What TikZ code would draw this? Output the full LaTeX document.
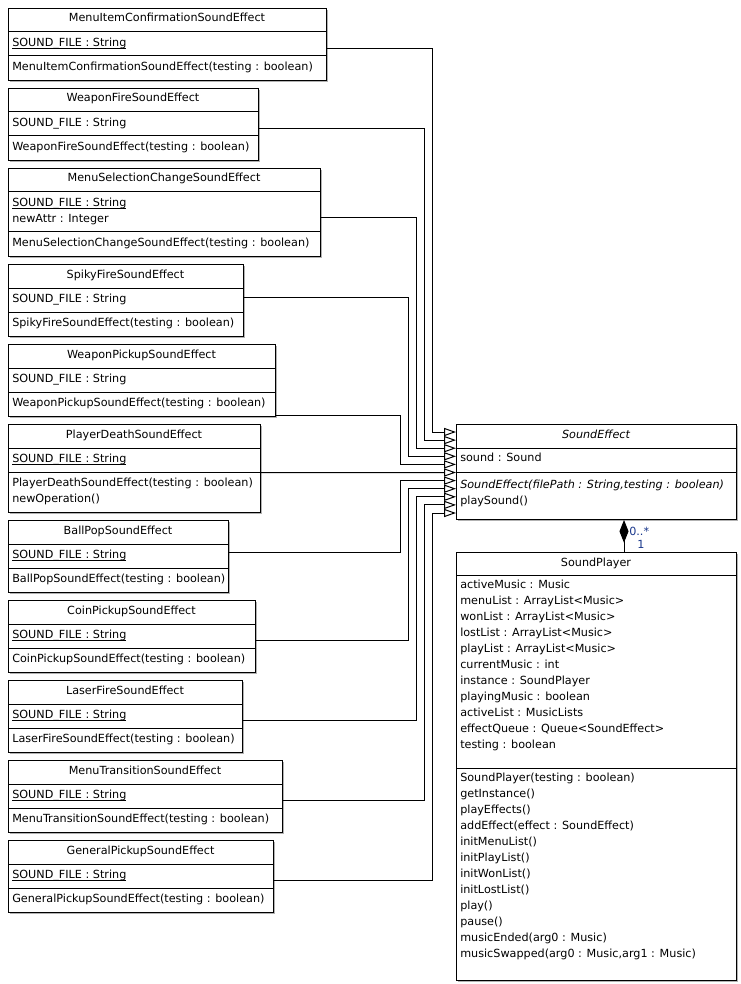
\documentclass[tikz,border=0pt]{standalone}
\usepackage{fontspec}
\setmainfont{DejaVu Sans}
\usetikzlibrary{arrows.meta,calc,shadows}

\definecolor{multblue}{RGB}{25,55,140}
\newcommand{\umlfont}{\fontsize{8.4pt}{12pt}\selectfont}
% static members: a rule level with the underscore glyph
\newsavebox{\ulbox}
\newcommand{\staticmem}[1]{\sbox{\ulbox}{#1}\rlap{\rule[-1.55pt]{\wd\ulbox}{0.5pt}}\usebox{\ulbox}}

\tikzset{
  x=0.75pt, y=-0.75pt,
  umlbox/.style={draw=black, line width=0.75pt, fill=white, inner sep=0pt,
    anchor=north west,
    drop shadow={shadow xshift=1.1pt, shadow yshift=-1.1pt, fill=black, opacity=0.3}},
  member/.style={anchor=base west, inner sep=0pt, font=\umlfont},
  cname/.style={anchor=base, inner sep=0pt, font=\umlfont},
  divider/.style={line width=0.75pt},
  gen/.style={line width=0.75pt,
    -{Triangle[open, length=9pt, width=6.1pt, line width=0.75pt]}},
  comp/.style={line width=0.75pt, {Diamond[length=17pt, width=6.8pt]}-},
  mult/.style={inner sep=0pt, font=\umlfont, text=multblue},
}

% class frame with its name row
\newcommand{\umlcls}[6]{%
  \node[umlbox, minimum width={(#4-#2)*0.75pt}, minimum height={(#5-#3)*0.75pt}] (#1) at (#2,#3) {};
  \node[cname] (#1-name) at ({(#2+#4)/2},#3+14) {#6};
}
% horizontal compartment line
\newcommand{\umlsep}[3]{\draw[divider] (#1,#3) -- (#2,#3);}
% one attribute or operation line
\newcommand{\umlmem}[4]{\node[member] (#1) at (#2,#3) {#4};}

% the usual effect subclass: one attribute, one constructor
\newcommand{\effect}[6]{% name, y-top, x-right, title, attribute, operation
  \umlcls{#1}{8}{#2}{#3}{#2+72}{#4}
  \umlsep{8}{#3}{#2+24}
  \umlsep{8}{#3}{#2+48}
  \umlmem{#1-a1}{12}{#2+38.5}{#5}
  \umlmem{#1-o1}{12}{#2+62.5}{#6}
}

\begin{document}
\begin{tikzpicture}
\fill[white] (0,0) rectangle (740,984);
\useasboundingbox (0,0) rectangle (740,984);

% ---- subclasses -----------------------------------------------------
\effect{mic}{8}{326}{MenuItemConfirmationSoundEffect}{\staticmem{SOUND\_FILE : String}}{MenuItemConfirmationSoundEffect(testing : boolean)}
\effect{wfire}{88}{258}{WeaponFireSoundEffect}{SOUND\_FILE : String}{WeaponFireSoundEffect(testing : boolean)}

\umlcls{msel}{8}{168}{320}{256}{MenuSelectionChangeSoundEffect}
\umlsep{8}{320}{192}
\umlsep{8}{320}{232}
\umlmem{msel-a1}{12}{206.5}{\staticmem{SOUND\_FILE : String}}
\umlmem{msel-a2}{12}{222.5}{newAttr : Integer}
\umlmem{msel-o1}{12}{246.5}{MenuSelectionChangeSoundEffect(testing : boolean)}

\effect{spiky}{264}{243}{SpikyFireSoundEffect}{SOUND\_FILE : String}{SpikyFireSoundEffect(testing : boolean)}
\effect{wpick}{344}{275}{WeaponPickupSoundEffect}{SOUND\_FILE : String}{WeaponPickupSoundEffect(testing : boolean)}

\umlcls{pdeath}{8}{424}{260}{512}{PlayerDeathSoundEffect}
\umlsep{8}{260}{448}
\umlsep{8}{260}{472}
\umlmem{pdeath-a1}{12}{462.5}{\staticmem{SOUND\_FILE : String}}
\umlmem{pdeath-o1}{12}{486.5}{PlayerDeathSoundEffect(testing : boolean)}
\umlmem{pdeath-o2}{12}{502.5}{newOperation()}

\effect{bpop}{520}{228}{BallPopSoundEffect}{\staticmem{SOUND\_FILE : String}}{BallPopSoundEffect(testing : boolean)}
\effect{coin}{600}{255}{CoinPickupSoundEffect}{\staticmem{SOUND\_FILE : String}}{CoinPickupSoundEffect(testing : boolean)}
\effect{laser}{680}{242}{LaserFireSoundEffect}{\staticmem{SOUND\_FILE : String}}{LaserFireSoundEffect(testing : boolean)}
\effect{mtrans}{760}{282}{MenuTransitionSoundEffect}{\staticmem{SOUND\_FILE : String}}{MenuTransitionSoundEffect(testing : boolean)}
\effect{gpick}{840}{273}{GeneralPickupSoundEffect}{\staticmem{SOUND\_FILE : String}}{GeneralPickupSoundEffect(testing : boolean)}

% ---- abstract base class --------------------------------------------
\umlcls{se}{456}{424}{736}{519}{\itshape SoundEffect}
\umlsep{456}{736}{448}
\umlsep{456}{736}{472}
\umlmem{se-a1}{460}{461}{sound : Sound}
\umlmem{se-o1}{460}{488}{\itshape SoundEffect(filePath : String,testing : boolean)}
\umlmem{se-o2}{460}{504}{playSound()}

% ---- player ---------------------------------------------------------
\umlcls{sp}{456}{552}{736}{980}{SoundPlayer}
\umlsep{456}{736}{575}
\umlsep{456}{736}{768}
\foreach \txt [count=\k from 0] in {%
  activeMusic : Music,
  menuList : ArrayList<Music>,
  wonList : ArrayList<Music>,
  lostList : ArrayList<Music>,
  playList : ArrayList<Music>,
  currentMusic : int,
  instance : SoundPlayer,
  playingMusic : boolean,
  activeList : MusicLists,
  effectQueue : Queue<SoundEffect>,
  testing : boolean}
  \node[member] (sp-a\k) at (460,{588+16*\k}) {\txt};
\foreach \txt [count=\k from 0] in {%
  SoundPlayer(testing : boolean),
  getInstance(),
  playEffects(),
  addEffect(effect : SoundEffect),
  initMenuList(),
  initPlayList(),
  initWonList(),
  initLostList(),
  play(),
  pause(),
  musicEnded(arg0 : Music),
  {musicSwapped(arg0 : Music,arg1 : Music)}}
  \node[member] (sp-o\k) at (460,{781+16*\k}) {\txt};

% ---- generalisation connectors --------------------------------------
\foreach \i in {0,...,10}
  \coordinate (e\i) at ($(se.north west)+(0,{8+8.1*\i})$);

\draw[gen] ($(mic.east)+(0,4)$)     -| ([xshift=-18pt]e0) -- (e0);
\draw[gen] ($(wfire.east)+(0,4)$)   -| ([xshift=-24pt]e1) -- (e1);
\draw[gen] ($(msel.east)+(0,5)$)    -| ([xshift=-30pt]e2) -- (e2);
\draw[gen] ($(spiky.east)+(0,-3)$)  -| ([xshift=-36pt]e3) -- (e3);
\draw[gen] ($(wpick.east)+(0,35)$)  -| ([xshift=-42pt]e4) -- (e4);
\draw[gen] ($(pdeath.east)+(0,4)$)  -- (e5);
\draw[gen] ($(bpop.east)+(0,-4)$)   -| ([xshift=-42pt]e6) -- (e6);
\draw[gen] ($(coin.east)+(0,4)$)    -| ([xshift=-36pt]e7) -- (e7);
\draw[gen] ($(laser.east)+(0,4)$)   -| ([xshift=-30pt]e8) -- (e8);
\draw[gen] ($(mtrans.east)+(0,4)$)  -| ([xshift=-24pt]e9) -- (e9);
\draw[gen] ($(gpick.east)+(0,4)$)   -| ([xshift=-18pt]e10) -- (e10);

% ---- composition SoundEffect -> SoundPlayer -------------------------
\coordinate (cs) at ($(se.south west)+(168,0)$);
\coordinate (ct) at (cs |- sp.north);
\draw[comp] (cs) -- (ct);
\node[mult, anchor=west] (m-many) at ($(cs)+(5,11)$) {0..*};
\node[mult] (m-one) at ($(cs)+(17,24)$) {1};
\end{tikzpicture}
\end{document}
